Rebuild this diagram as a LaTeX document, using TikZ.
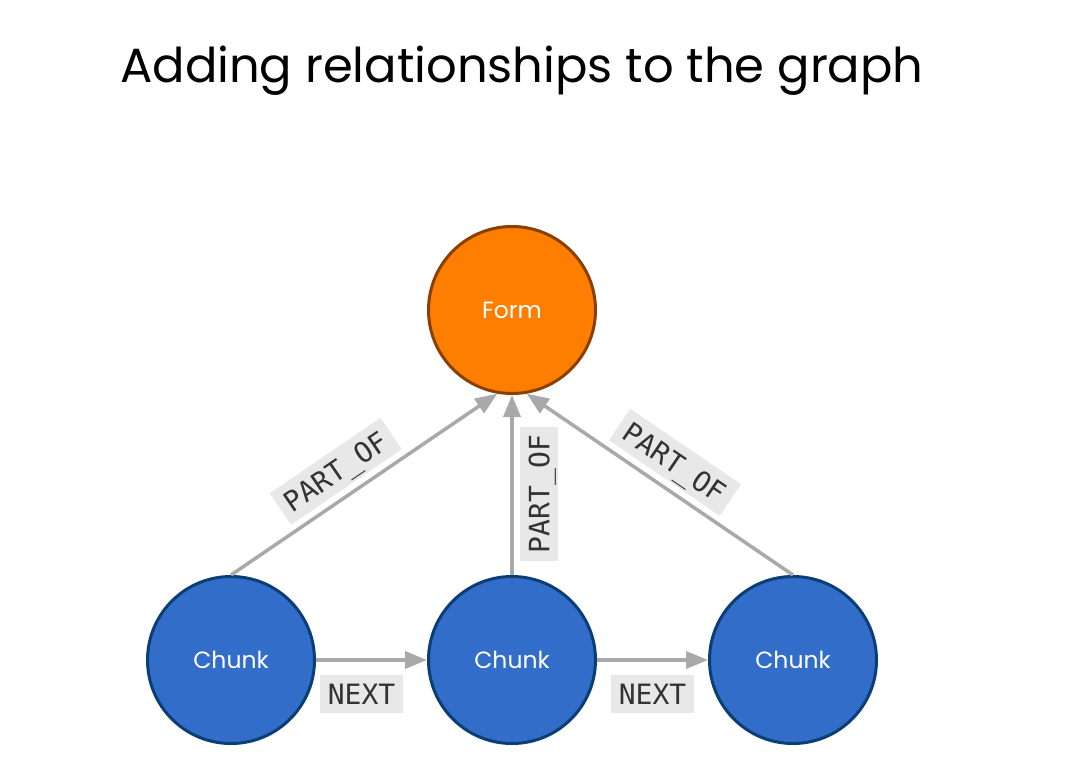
\documentclass[tikz,border=0pt]{standalone}
\usepackage{fontspec}
\setmainfont{Poppins}
\newfontfamily\lblfont{DejaVu Sans Mono}
\usetikzlibrary{arrows.meta}
\definecolor{formfill}{HTML}{FD7E00}
\definecolor{formdraw}{HTML}{8A4000}
\definecolor{chunkfill}{HTML}{326DC9}
\definecolor{chunkdraw}{HTML}{0A3E75}
\definecolor{edgegray}{HTML}{A9A9A9}
\definecolor{lblbg}{HTML}{E8E8E8}
\definecolor{lbltext}{HTML}{333333}
\begin{document}
\begin{tikzpicture}[x=1pt,y=-1pt,
  gnode/.style={circle, minimum size=167pt, inner sep=0pt, line width=3pt, text=white, font=\fontsize{23.5}{23.5}\selectfont},
  formnode/.style={gnode, fill=formfill, draw=formdraw},
  chunknode/.style={gnode, fill=chunkfill, draw=chunkdraw},
  rel/.style={draw=edgegray, line width=3.5pt, -{Triangle[length=22pt,width=17pt]}},
  lbl/.style={fill=lblbg, text=lbltext, font=\lblfont\fontsize{28}{28}\selectfont, text height=21pt, text depth=0pt, inner xsep=8pt, inner ysep=8.5pt}
]
\useasboundingbox[fill=white] (0,0) rectangle (1067,770);
\node[anchor=base west, font=\fontsize{48}{48}\selectfont, inner sep=0pt] (title) at (120,83) {Adding relationships to the graph};
\node[formnode] (form) at (512,310) {Form};
\node[chunknode] (c1) at (231,660) {Chunk};
\node[chunknode] (c2) at (512,660) {Chunk};
\node[chunknode] (c3) at (793,660) {Chunk};
\draw[rel] (c1.north) -- node[lbl, sloped, pos=0.45, above=6pt] {PART\_OF} (form.-100);
\draw[rel] (c2.north) -- node[lbl, sloped, pos=0.45, below=6pt] {PART\_OF} (form.south);
\draw[rel] (c3.north) -- node[lbl, sloped, pos=0.5, above=6pt] {PART\_OF} (form.-80);
\draw[rel] (c1.east) -- node[lbl, pos=0.41, below=13pt] {NEXT} (c2.west);
\draw[rel] (c2.east) -- node[lbl, pos=0.5, below=13pt] {NEXT} (c3.west);
\end{tikzpicture}
\end{document}
